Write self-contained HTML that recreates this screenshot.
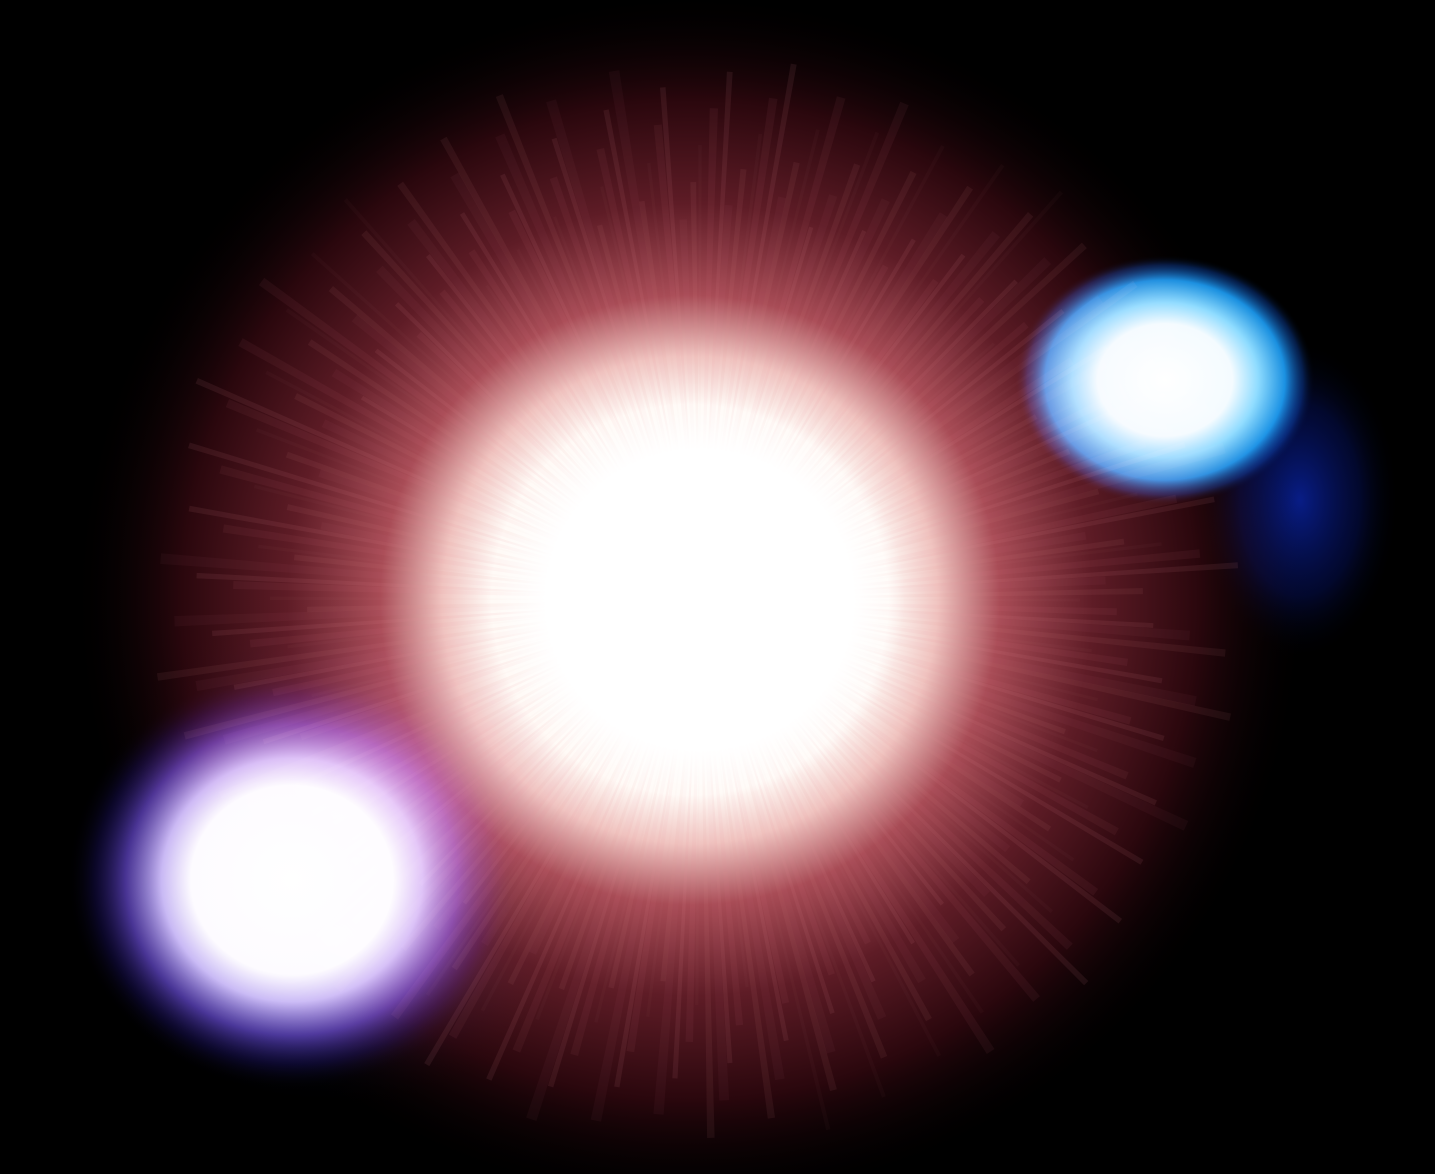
<!DOCTYPE html>
<html><head><meta charset="utf-8">
<style>
html,body{margin:0;padding:0;background:#000;width:1435px;height:1174px;overflow:hidden}
svg{display:block}
.scr{mix-blend-mode:screen}
</style></head>
<body>
<svg width="1435" height="1174" viewBox="0 0 1435 1174" xmlns="http://www.w3.org/2000/svg">
<defs>
<radialGradient id="redHalo" cx="0.5" cy="0.5" r="0.5">
<stop offset="0" stop-color="#ffffff"/>
<stop offset="0.32" stop-color="#fffaf6"/>
<stop offset="0.4" stop-color="#f0c4c0"/>
<stop offset="0.5" stop-color="#a84c56"/>
<stop offset="0.65" stop-color="#5e1c26"/>
<stop offset="0.82" stop-color="#2a070d"/>
<stop offset="1" stop-color="#000" stop-opacity="0"/>
</radialGradient>
<radialGradient id="blueHalo" cx="0.5" cy="0.5" r="0.5">
<stop offset="0" stop-color="#ffffff"/>
<stop offset="0.45" stop-color="#f4fbff"/>
<stop offset="0.62" stop-color="#8fdcff"/>
<stop offset="0.8" stop-color="#1a90e0"/>
<stop offset="0.92" stop-color="#0a3a90" stop-opacity="0.5"/>
<stop offset="1" stop-color="#000" stop-opacity="0"/>
</radialGradient>
<radialGradient id="tail" cx="0.5" cy="0.5" r="0.5">
<stop offset="0" stop-color="#0a24a8" stop-opacity="0.8"/>
<stop offset="0.6" stop-color="#061470" stop-opacity="0.4"/>
<stop offset="1" stop-color="#000" stop-opacity="0"/>
</radialGradient>
<radialGradient id="purpleHalo" cx="0.5" cy="0.5" r="0.5">
<stop offset="0" stop-color="#ffffff"/>
<stop offset="0.45" stop-color="#fdfbff"/>
<stop offset="0.58" stop-color="#c8b8f4"/>
<stop offset="0.74" stop-color="#5a40b8" stop-opacity="0.8"/>
<stop offset="0.88" stop-color="#1a1060" stop-opacity="0.4"/>
<stop offset="1" stop-color="#000" stop-opacity="0"/>
</radialGradient>
<radialGradient id="blueUnder" cx="0.5" cy="0.5" r="0.5">
<stop offset="0" stop-color="#3040c0" stop-opacity="0.6"/>
<stop offset="1" stop-color="#000" stop-opacity="0"/>
</radialGradient>
<radialGradient id="purpleMist" cx="0.5" cy="0.5" r="0.5">
<stop offset="0" stop-color="#6a2a9a" stop-opacity="0.5"/>
<stop offset="1" stop-color="#000" stop-opacity="0"/>
</radialGradient>
<radialGradient id="coreWhite" cx="0.5" cy="0.5" r="0.5">
<stop offset="0" stop-color="#fff"/>
<stop offset="0.75" stop-color="#fff"/>
<stop offset="1" stop-color="#fff" stop-opacity="0"/>
</radialGradient>
</defs>
<rect width="1435" height="1174" fill="#000"/>
<ellipse cx="690" cy="600" rx="620" ry="610" fill="url(#redHalo)"/>
<g id="rays"></g>
<ellipse class="scr" cx="370" cy="780" rx="260" ry="190" fill="url(#purpleMist)"/>
<ellipse class="scr" cx="330" cy="940" rx="230" ry="170" fill="url(#blueUnder)"/>
<ellipse class="scr" cx="1300" cy="500" rx="100" ry="160" fill="url(#tail)"/>
<ellipse class="scr" cx="1165" cy="380" rx="150" ry="125" fill="url(#blueHalo)"/>
<ellipse class="scr" cx="292" cy="880" rx="225" ry="210" fill="url(#purpleHalo)"/>
<ellipse cx="700" cy="600" rx="205" ry="200" fill="url(#coreWhite)"/>
</svg>
<script>
var g=document.getElementById('rays');
var ns='http://www.w3.org/2000/svg';
var cx=700,cy=600;
for(var i=0;i<260;i++){
  var a=i/260*Math.PI*2+(i%3)*0.004;
  var len=380+((i*37)%170);
  var w=0.004+((i*13)%5)*0.0015;
  var p=document.createElementNS(ns,'polygon');
  var x1=cx+Math.cos(a-w)*len,y1=cy+Math.sin(a-w)*len;
  var x2=cx+Math.cos(a+w)*len,y2=cy+Math.sin(a+w)*len;
  p.setAttribute('points',cx+','+cy+' '+x1+','+y1+' '+x2+','+y2);
  p.setAttribute('fill','#e89098');
  p.setAttribute('opacity',0.03+((i*7)%5)*0.015);
  
  
  g.appendChild(p);
}
</script>
</body></html>
